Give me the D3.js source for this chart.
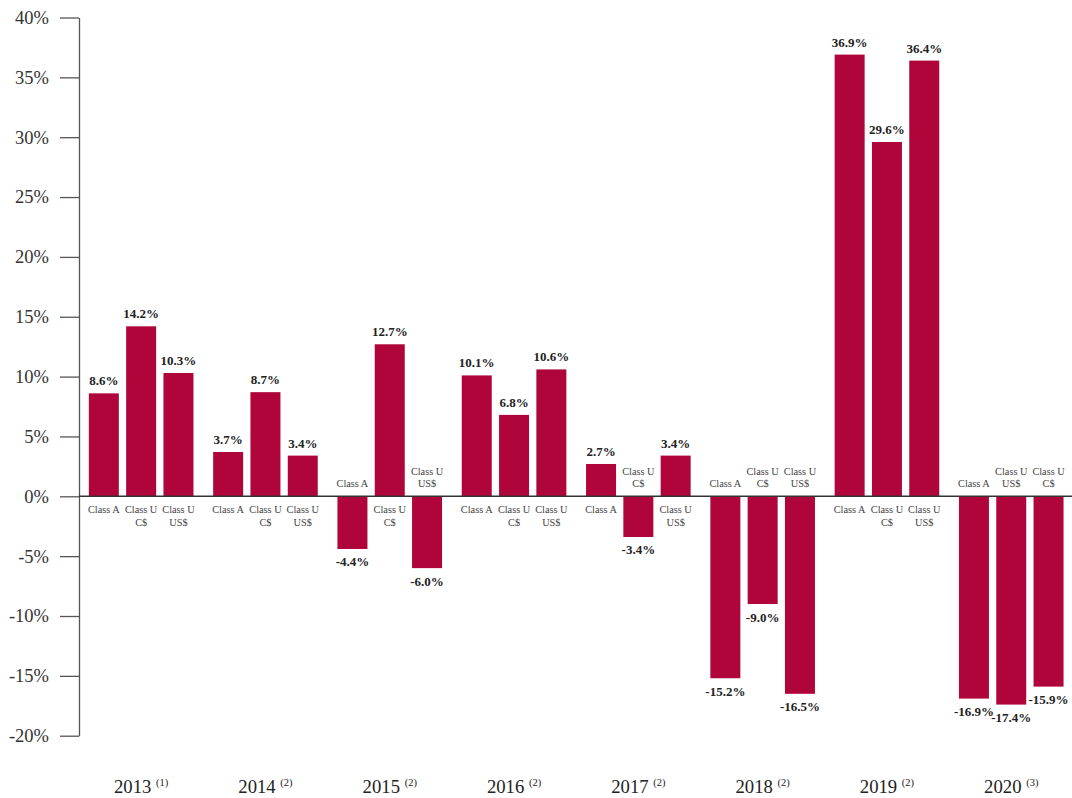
<!DOCTYPE html>
<html><head><meta charset="utf-8">
<script src="https://cdn.jsdelivr.net/npm/d3@7"></script>
<style>body{margin:0;background:#fff}svg{display:block}</style>
</head><body>
<svg id="c" width="1072" height="798"></svg>
<script>
const years = ["2013","2014","2015","2016","2017","2018","2019","2020"];
const notes = ["(1)","(2)","(2)","(2)","(2)","(2)","(2)","(3)"];
const classOrder = [
  ["Class A","Class U C$","Class U US$"],
  ["Class A","Class U C$","Class U US$"],
  ["Class A","Class U C$","Class U US$"],
  ["Class A","Class U C$","Class U US$"],
  ["Class A","Class U C$","Class U US$"],
  ["Class A","Class U C$","Class U US$"],
  ["Class A","Class U C$","Class U US$"],
  ["Class A","Class U US$","Class U C$"]
];
const returns = [
  [8.6,14.2,10.3],
  [3.7,8.7,3.4],
  [-4.4,12.7,-6.0],
  [10.1,6.8,10.6],
  [2.7,-3.4,3.4],
  [-15.2,-9.0,-16.5],
  [36.9,29.6,36.4],
  [-16.9,-17.4,-15.9]
];
const yTicks = [40,35,30,25,20,15,10,5,0,-5,-10,-15,-20];

const svg = d3.select("#c");
const font = "'Liberation Serif','Times New Roman',serif";
const barColor = "#B0053A";

const y = d3.scaleLinear().domain([-20,40]).range([735.7,17.5]);
const x = d3.scaleBand().domain(years).range([79,1073.4]).padding(0);
const xi = d3.scaleBand().domain([0,1,2]).range([0,x.bandwidth()]).paddingInner(0.196).paddingOuter(0.264);

const data = [];
years.forEach((yr,i)=>returns[i].forEach((v,j)=>data.push({yr,j,v,cls:classOrder[i][j]})));

// bars
svg.append("g").selectAll("rect").data(data).join("rect")
  .attr("x",d=>x(d.yr)+xi(d.j))
  .attr("width",xi.bandwidth())
  .attr("y",d=>y(Math.max(0,d.v)))
  .attr("height",d=>Math.abs(y(d.v)-y(0)))
  .attr("fill",barColor);

// y axis
const ax = svg.append("g").attr("transform","translate(79,0)")
  .call(d3.axisLeft(y).tickValues(yTicks).tickFormat(d=>d+"%").tickSize(19).tickSizeOuter(0).tickPadding(11));
ax.select(".domain").attr("stroke","#555").attr("stroke-width",1.3);
ax.selectAll(".tick line").attr("stroke","#555").attr("stroke-width",1.3);
ax.selectAll(".tick text").attr("font-family",font).attr("font-size",18.5).attr("fill","#333");

// zero baseline
svg.append("line").attr("x1",79).attr("x2",1072).attr("y1",y(0)).attr("y2",y(0))
  .attr("stroke","#333").attr("stroke-width",1.4);

// value labels
svg.append("g").selectAll("text").data(data).join("text")
  .attr("x",d=>x(d.yr)+xi(d.j)+xi.bandwidth()/2)
  .attr("y",d=>d.v>=0 ? y(d.v)-8 : y(d.v)+17.5)
  .attr("text-anchor","middle")
  .attr("font-family",font).attr("font-size",13).attr("font-weight","bold").attr("fill","#222")
  .text(d=>d.v.toFixed(1)+"%");

// category labels
const cg = svg.append("g");
data.forEach(d=>{
  const cx = x(d.yr)+xi(d.j)+xi.bandwidth()/2;
  const lines = d.cls==="Class A" ? ["Class A"] : ["Class U", d.cls.replace("Class U ","")];
  const base = y(0);
  const t = cg.append("text").attr("text-anchor","middle")
    .attr("font-family",font).attr("font-size",10.3).attr("fill","#444");
  lines.forEach((ln,k)=>{
    let yy;
    if(d.v>=0) yy = base+17+k*12.6;
    else yy = base-9-(lines.length-1-k)*12.6;
    t.append("tspan").attr("x",cx).attr("y",yy).text(ln);
  });
});

// year labels
const yl = svg.append("g").selectAll("text").data(years).join("text")
  .attr("x",d=>x(d)+x.bandwidth()/2)
  .attr("y",792.7)
  .attr("text-anchor","middle")
  .attr("font-family",font).attr("font-size",18.7).attr("fill","#222");
yl.append("tspan").text(d=>d+" ");
yl.append("tspan").attr("font-size",10.5).attr("dy",-7).text((d,i)=>notes[i]);
</script>
</body></html>
